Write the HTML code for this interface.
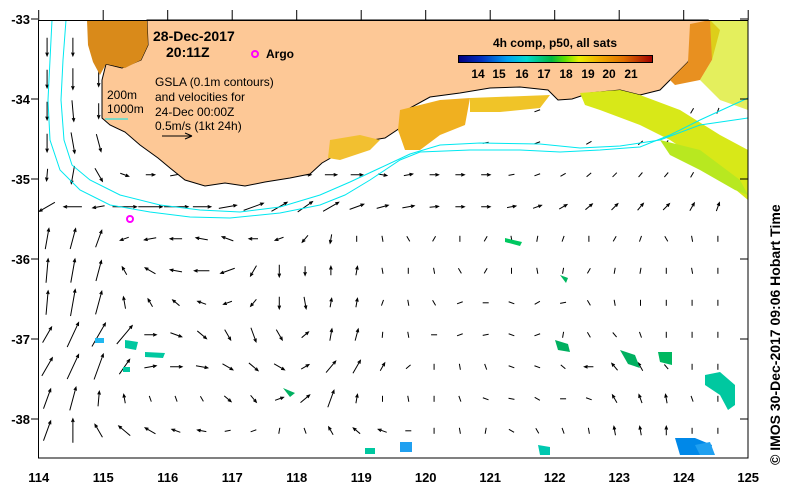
<!DOCTYPE html>
<html><head><meta charset="utf-8"><style>
html,body{margin:0;padding:0;background:#fff;}
svg{display:block;font-family:"Liberation Sans",Arial,sans-serif;}
</style></head><body>
<svg id="chart" width="790" height="492" viewBox="0 0 790 492">
<defs><linearGradient id="cb" x1="0" x2="1" y1="0" y2="0">
<stop offset="0" stop-color="#000080"/><stop offset="0.12" stop-color="#0030c0"/><stop offset="0.25" stop-color="#00a0f0"/><stop offset="0.35" stop-color="#00d8d0"/><stop offset="0.48" stop-color="#00b840"/><stop offset="0.55" stop-color="#60e000"/><stop offset="0.62" stop-color="#e8f000"/><stop offset="0.72" stop-color="#f0b000"/><stop offset="0.85" stop-color="#e07000"/><stop offset="1" stop-color="#a00000"/></linearGradient></defs>
<g id="arrows"></g>
<path fill="#fdc896" stroke="#000" stroke-width="1" d="M147,20 L148,45 L141,60 L122,68 L106,64 L102,80 L102,118 L110,125 L125,132 L140,145 L158,158 L170,168 L185,180 L205,186 L225,183 L245,186 L265,182 L290,178 L310,174 L322,163 L343,151 L360,142 L385,138 L400,128 L410,108 L430,97 L460,93 L490,88 L520,87 L548,90 L558,100 L572,99 L590,93 L620,90 L640,95 L660,90 L670,80 L688,62 L696,45 L702,30 L708,20 Z"/>
<g>
<path fill="#d98a1a" d="M87,20 L147,20 L148,45 L141,60 L125,68 L106,64 L100,75 L93,62 L88,45 Z"/>
<path fill="#f0b020" d="M400,110 L440,100 L470,98 L465,125 L440,135 L420,150 L405,150 L398,130 Z"/>
<path fill="#f2c030" d="M330,140 L360,135 L380,140 L370,150 L340,160 L328,158 Z"/>
<path fill="#f0c428" d="M470,98 L550,95 L540,108 L500,112 L470,112 Z"/>
<path fill="#e89020" d="M690,24 L710,20 L720,30 L712,60 L700,80 L675,85 L670,80 L688,62 Z"/>
<path fill="#d8e818" d="M580,93 L620,90 L640,95 L680,110 L720,135 L748,150 L748,200 L730,185 L700,160 L670,140 L640,125 L600,110 L585,105 Z"/>
<path fill="#d8e818" opacity="0.7" d="M710,20 L748,20 L748,110 L720,100 L700,80 L712,60 Z"/>
<path fill="#b8e820" d="M660,140 L700,150 L740,180 L748,195 L735,190 L700,170 L670,155 Z"/>
<path fill="#00c8a0" d="M705,375 L720,372 L735,385 L735,405 L728,410 L720,395 L705,385 Z"/>
<path fill="#00b860" d="M658,352 L672,352 L672,365 L660,362 Z"/>
<path fill="#00b060" d="M620,350 L635,355 L640,368 L628,364 Z"/>
<path fill="#00b060" d="M555,340 L568,344 L570,352 L558,350 Z"/>
<path fill="#0088e8" d="M675,438 L695,438 L712,445 L710,455 L680,455 Z"/>
<path fill="#20a0f0" d="M695,445 L710,442 L715,455 L700,455 Z"/>
<path fill="#00c8b0" d="M538,445 L550,447 L550,455 L540,455 Z"/>
<path fill="#00c8a0" d="M125,340 L138,342 L136,350 L125,348 Z"/>
<path fill="#20b8f0" d="M95,338 L104,338 L104,343 L95,343 Z"/>
<path fill="#00c8a0" d="M145,352 L165,353 L163,358 L145,357 Z"/>
<path fill="#00c8a0" d="M123,367 L130,367 L130,372 L123,372 Z"/>
<path fill="#00b060" d="M283,388 L295,393 L290,397 Z"/>
<path fill="#20a0f0" d="M400,442 L412,442 L412,452 L400,452 Z"/>
<path fill="#00c8a0" d="M365,448 L375,448 L375,454 L365,454 Z"/>
<path fill="#00c860" d="M505,238 L522,242 L520,246 L505,242 Z"/>
<path fill="#00b860" d="M560,275 L568,278 L566,283 Z"/>
</g>
<g fill="none" stroke="#00e8f0" stroke-width="1">
<polyline points="52,20 50,60 48,100 50,140 60,170 80,190 110,205 150,212 190,217 230,218 280,213 320,205 345,195 370,180 400,160 420,152 470,150 520,150 560,152 600,150 640,147 670,135 700,120 748,98"/>
<polyline points="66,20 63,60 61,100 64,140 72,165 90,180 120,195 160,205 200,210 240,212 280,207 320,195 350,182 380,168 410,154 440,145 480,143 540,144 580,148 620,146 660,140 700,125 748,118"/>
<line x1="105" y1="119" x2="128" y2="119"/>
</g>
<rect x="38.5" y="20.5" width="709.5" height="437.5" fill="none" stroke="#000"/>
<g id="axes" font-weight="bold" font-size="13" fill="#000"></g>
<g>
<text x="153" y="41" font-size="14" font-weight="bold">28-Dec-2017</text>
<text x="166" y="57" font-size="14" font-weight="bold">20:11Z</text>
<circle cx="255" cy="54" r="3" fill="none" stroke="#ff00ff" stroke-width="2"/>
<text x="266" y="58" font-size="12" font-weight="bold">Argo</text>
<circle cx="130" cy="219" r="3" fill="none" stroke="#ff00ff" stroke-width="2"/>
<text x="155" y="86" font-size="12">GSLA (0.1m contours)</text>
<text x="155" y="101" font-size="12">and velocities for</text>
<text x="155" y="116" font-size="12">24-Dec 00:00Z</text>
<text x="155" y="130" font-size="12">0.5m/s (1kt 24h)</text>
<text x="107" y="99" font-size="12">200m</text>
<text x="107" y="113" font-size="12">1000m</text>
<g stroke="#000"><line x1="162" y1="136" x2="192" y2="136"/><line x1="192" y1="136" x2="185" y2="133"/><line x1="192" y1="136" x2="185" y2="139"/></g>
<text x="555" y="47" font-size="12" font-weight="bold" text-anchor="middle">4h comp, p50, all sats</text>
<rect x="458.5" y="55.5" width="194" height="7" fill="url(#cb)" stroke="#000"/>
<g font-size="12" font-weight="bold" text-anchor="middle">
<text x="478" y="78">14</text><text x="499" y="78">15</text><text x="522" y="78">16</text><text x="544" y="78">17</text><text x="566" y="78">18</text><text x="588" y="78">19</text><text x="609" y="78">20</text><text x="631" y="78">21</text></g>
<text transform="translate(780,465) rotate(-90)" font-size="14" font-weight="bold">©  IMOS 30-Dec-2017 09:06 Hobart Time</text>
</g>
</svg>
<script>
const lonTicks=[114,115,116,117,118,119,120,121,122,123,124,125];
const latTicks=[-33,-34,-35,-36,-37,-38];
const colLons=[114.13,114.53,114.93,115.33,115.73,116.13,116.53,116.93,117.33,117.73,118.13,118.53,118.93,119.33,119.73,120.13,120.53,120.93,121.33,121.73,122.13,122.53,122.93,123.33,123.73,124.13,124.53];
const rowLats=[-33.36,-33.76,-34.16,-34.56,-34.96,-35.36,-35.76,-36.16,-36.56,-36.96,-37.36,-37.76,-38.16];
const angles=[
[270,270,270,0,0,0,0,0,0,0,0,0,0,0,0,0,0,0,0,0,0,0,0,0,0,0,0],
[270,270,270,0,0,0,0,0,0,0,0,0,0,0,0,0,0,0,0,0,0,0,0,0,0,0,0],
[270,275,270,0,0,0,0,0,0,0,0,0,0,0,0,0,0,0,0,20,0,0,0,0,30,60,70],
[270,280,285,0,0,0,0,0,0,0,0,0,0,0,0,0,0,10,0,20,0,30,0,40,50,60,70],
[265,260,300,340,0,10,20,20,10,0,0,0,0,350,10,0,0,0,10,20,30,40,45,50,50,60,80],
[210,180,190,0,0,0,0,10,20,30,35,30,20,15,10,5,0,0,10,20,30,40,45,50,45,60,70],
[80,75,70,200,190,180,170,160,180,200,230,260,90,100,120,60,90,60,100,80,70,90,60,250,120,100,90],
[85,80,75,120,150,170,180,200,240,270,270,90,80,100,90,100,120,60,90,100,80,240,260,80,90,100,90],
[85,80,75,100,120,140,160,200,230,270,280,80,80,70,100,120,200,180,160,210,190,120,100,90,270,90,90],
[60,65,60,50,0,340,320,300,290,300,40,80,75,85,100,0,200,190,160,200,80,120,130,110,270,90,90],
[60,65,70,55,10,0,350,330,320,330,30,50,60,60,40,90,100,110,160,160,140,180,130,120,130,270,90],
[70,75,85,100,110,290,300,320,310,20,40,70,80,90,100,90,110,160,170,150,180,160,120,110,100,110,90],
[70,90,120,140,150,160,170,190,200,80,110,120,140,160,180,90,100,80,150,120,110,100,100,100,90,90,90]];
const speeds=[
[.3,.3,.25,0,0,0,0,0,0,0,0,0,0,0,0,0,0,0,0,0,0,0,0,0,0,0,0],
[.3,.35,.25,0,0,0,0,0,0,0,0,0,0,0,0,0,0,0,0,0,0,0,0,0,0,0,0],
[.3,.35,.25,0,0,0,0,0,0,0,0,0,0,0,0,0,0,0,0,.1,0,0,0,0,.1,.1,.1],
[.3,.35,.3,0,0,0,0,0,0,0,0,0,0,0,0,0,0,.1,0,.1,0,.1,0,.1,.1,.1,.1],
[.2,.3,.25,.15,.15,.2,.2,.15,.15,.2,.2,.2,.2,.15,.15,.15,.15,.15,.1,.1,.1,.1,.1,.1,.1,.1,.1],
[.3,.3,.2,.4,.4,.4,.3,.3,.35,.3,.3,.3,.25,.2,.2,.15,.15,.15,.15,.15,.15,.15,.15,.15,.15,.15,.15],
[.35,.35,.3,.15,.2,.2,.2,.2,.15,.15,.15,.15,.1,.1,.1,.1,.1,.1,.1,.1,.1,.1,.1,.1,.1,.1,.1],
[.4,.4,.35,.15,.2,.2,.25,.25,.2,.2,.15,.15,.15,.1,.1,.1,.1,.1,.1,.1,.1,.1,.1,.1,.1,.1,.1],
[.4,.45,.4,.2,.15,.15,.15,.15,.15,.2,.2,.15,.15,.1,.1,.1,.1,.1,.1,.1,.1,.1,.1,.1,.1,.1,.1],
[.3,.45,.45,.4,.2,.2,.2,.2,.25,.2,.15,.2,.2,.1,.1,.1,.1,.1,.1,.1,.1,.1,.1,.1,.1,.1,.1],
[.35,.45,.45,.3,.2,.2,.2,.2,.2,.2,.15,.25,.25,.15,.1,.1,.1,.1,.1,.1,.1,.15,.15,.15,.1,.1,.1],
[.35,.4,.25,.15,.1,.1,.1,.15,.15,.15,.2,.3,.15,.1,.1,.1,.1,.1,.1,.1,.1,.1,.15,.15,.15,.1,.1],
[.35,.4,.25,.25,.2,.15,.15,.1,.1,.1,.1,.15,.15,.15,.1,.1,.1,.1,.1,.1,.1,.1,.15,.15,.15,.1,.1]];
const NS='http://www.w3.org/2000/svg';
const xS=lon=>38.7+(lon-114)*64.5;
const yS=lat=>18+(-33-lat)*80;
const PXPERMS=60;
const ag=document.getElementById('arrows');
rowLats.forEach((lat,j)=>{colLons.forEach((lon,i)=>{
 const s=speeds[j][i]; if(!s) return;
 const a=angles[j][i]*Math.PI/180, L=s*PXPERMS;
 const cx=xS(lon), cy=yS(lat);
 const dx=Math.cos(a)*L/2, dy=-Math.sin(a)*L/2;
 const x2=cx+dx,y2=cy+dy;
 const ha=Math.atan2(-dy,-dx);
 const hl=s>=0.15?3.5:0;
 const p=document.createElementNS(NS,'path');
 p.setAttribute('d',`M${cx-dx},${cy-dy}L${x2},${y2}`+(hl?`M${x2+hl*Math.cos(ha+0.4)},${y2+hl*Math.sin(ha+0.4)}L${x2},${y2}L${x2+hl*Math.cos(ha-0.4)},${y2+hl*Math.sin(ha-0.4)}`:''));
 p.setAttribute('stroke','#000');p.setAttribute('fill','none');p.setAttribute('stroke-width','1');
 
 
 ag.appendChild(p);
});});
const axg=document.getElementById('axes');
lonTicks.forEach(v=>{
 const x=xS(v);
 const t=document.createElementNS(NS,'line');
 t.setAttribute('x1',x);t.setAttribute('x2',x);t.setAttribute('y1',10);t.setAttribute('y2',20);t.setAttribute('stroke','#000');
 
 
 axg.appendChild(t);
 const tx=document.createElementNS(NS,'text');
 tx.setAttribute('x',x);tx.setAttribute('y',482);tx.setAttribute('text-anchor','middle');tx.textContent=v;
 
 
 axg.appendChild(tx);
});
latTicks.forEach(v=>{
 const y=yS(v)+1;
 const t=document.createElementNS(NS,'line');
 t.setAttribute('x1',31);t.setAttribute('x2',38);t.setAttribute('y1',y);t.setAttribute('y2',y);t.setAttribute('stroke','#000');
 
 
 axg.appendChild(t);
 const r=document.createElementNS(NS,'line');
 r.setAttribute('x1',740);r.setAttribute('x2',748);r.setAttribute('y1',y);r.setAttribute('y2',y);r.setAttribute('stroke','#000');
 
 
 axg.appendChild(r);
 const tx=document.createElementNS(NS,'text');
 tx.setAttribute('x',30);tx.setAttribute('y',y+5);tx.setAttribute('text-anchor','end');tx.textContent=v;
 
 
 axg.appendChild(tx);
});
</script>
</body></html>
